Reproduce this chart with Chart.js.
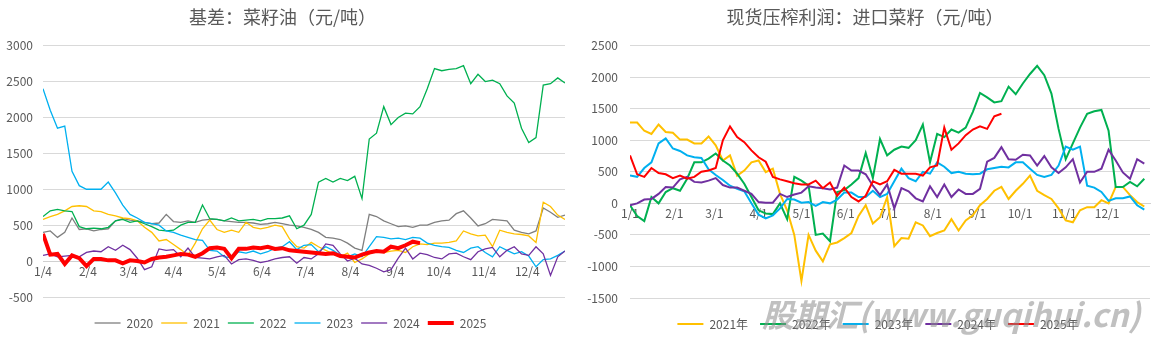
<!DOCTYPE html>
<html>
<head>
<meta charset="utf-8">
<script src="https://cdn.jsdelivr.net/npm/chart.js@4.4.1/dist/chart.umd.min.js"></script>
<style>
  html, body { margin: 0; padding: 0; background: #fff; overflow: hidden; }
  #wrap { position: relative; width: 1163px; height: 339px; overflow: hidden; }
  #basis { position: absolute; left: 0; top: 0; }
  #crush { position: absolute; left: 580px; top: 0; }
  .mark {
    position: absolute; left: 762px; top: 290px; line-height: 34px;
    font: italic bold 32px 'Noto Sans CJK SC', sans-serif;
    color: rgba(140, 140, 140, 0.55); white-space: nowrap;
  }
</style>
</head>
<body>
<div id="wrap">
  <canvas id="basis" width="580" height="339"></canvas>
  <canvas id="crush" width="583" height="339"></canvas>
  <div class="mark">股期汇(www.guqihui.cn)</div>
</div>
<script>
// readings taken every 5 days from the start of the year
const STEP = 5;

// left: 基差 菜籽油, day 0 = 1/4
const basisNames = ['2020', '2021', '2022', '2023', '2024', '2025'];
const basis2020 = [
  400, 420, 330, 400, 600, 440, 450, 420, 440, 450,
  560, 590, 570, 560, 540, 520, 530, 650, 550, 540,
  560, 540, 570, 580, 580, 560, 550, 540, 540, 530,
  510, 520, 540, 520, 500, 490, 470, 440, 400, 330,
  320, 300, 250, 180, 150, 650, 620, 560, 520, 480,
  490, 470, 500, 500, 540, 560, 570, 660, 700, 600,
  490, 520, 580, 570, 560, 430, 400, 380, 420, 740,
  680, 610, 640
];
const basis2021 = [
  580, 620, 650, 700, 760, 770, 760, 700, 690, 650,
  630, 600, 590, 560, 470, 400, 280, 300, 230, 160,
  80, 250, 450, 570, 440, 400, 430, 400, 540, 470,
  450, 470, 500, 480, 310, 200, 180, 260, 200, 150,
  100, 60, 110, -20, 30, 100, 150, 120, 140, 150,
  120, 200, 240, 230, 250, 250, 260, 280, 420, 380,
  350, 360, 200, 430, 400, 380, 370, 350, 260, 820,
  760, 640, 580
];
const basis2022 = [
  620, 700, 720, 700, 690, 480, 450, 460, 450, 470,
  560, 580, 540, 560, 520, 480, 430, 420, 430, 500,
  540, 540, 780, 590, 580, 560, 600, 560, 570, 580,
  560, 590, 590, 600, 630, 450, 500, 650, 1100, 1150,
  1100, 1150, 1120, 1180, 870, 1700, 1780, 2150, 1900, 2000,
  2060, 2050, 2150, 2400, 2680, 2650, 2670, 2680, 2720, 2470,
  2600, 2500, 2520, 2470, 2300, 2200, 1850, 1650, 1720, 2450,
  2470, 2550, 2480
];
const basis2023 = [
  2400, 2100, 1850, 1880, 1250, 1050, 1000, 1000, 1000, 1100,
  950, 780, 650, 600, 540, 520, 500, 420, 400, 360,
  330, 300, 290, 150, 140, 60, 50, 130, 110, 140,
  100, 130, 180, 200, 270, 160, 220, 230, 130, 200,
  150, 80, 60, 100, 60, 200, 340, 330, 310, 320,
  300, 330, 320, 250, 220, 200, 190, 150, 120, 180,
  200, 120, 60, 200, 150, 100, 130, 70, -80, 20,
  30, 80, 140
];
const basis2024 = [
  80, 100, 60, 70, 80, 60, 120, 140, 130, 200,
  150, 220, 160, 40, -120, -80, 170, 150, 160, 60,
  180, 50, 40, 30, 60, 80, -40, 20, 30, 10,
  -20, 0, 30, 50, 60, -30, 50, 30, 100, 240,
  220, 100, 0, 40, -40, -60, -100, -150, -120, 40,
  180, 30, 110, 90, 50, 30, 100, 110, 60, 20,
  130, 170, 190, 60, 150, 200, 100, 80, 200, 100,
  -200, 60, 140
];
const basis2025 = [
  380, 90, 100, -40, 80, 40, -70, 30, 30, 10,
  10, -30, 10, 0, -20, 30, 50, 60, 80, 100,
  90, 60, 110, 180, 190, 170, 40, 170, 170, 190,
  180, 200, 170, 180, 150, 140, 130, 120, 110, 100,
  110, 70, 60, 50, 90, 120, 140, 130, 200, 180,
  220, 270, 250
];
const basisTickDays = [0, 31, 59, 90, 120, 151, 181, 212, 243, 273, 304, 334];
const basisTickLabels = ['1/4', '2/4', '3/4', '4/4', '5/4', '6/4', '7/4', '8/4', '9/4', '10/4', '11/4', '12/4'];

// right: 现货压榨利润 进口菜籽, day 0 = 1/1
const crushNames = ['2021年', '2022年', '2023年', '2024年', '2025年'];
const crush2021 = [
  1280, 1280, 1150, 1100, 1250, 1130, 1120, 1010, 1010, 950,
  950, 1060, 920, 680, 760, 440, 520, 650, 680, 495,
  550, 150, -110, -500, -1230, -500, -750, -920, -650, -620,
  -550, -470, -200, -30, -320, -220, 100, -680, -550, -560,
  -300, -350, -520, -470, -430, -250, -430, -270, -190, -30,
  70, 200, 260, 70, 200, 310, 440, 200, 130, 70,
  -80, -270, -300, -110, -60, -60, 50, 0, 260, 260,
  130, 20, -50
];
const crush2022 = [
  -30, -200, -280, 100, 0, 180, 240, 200, 390, 650,
  650, 710, 790, 680, 600, 470, 310, 100, -110, -160,
  -170, 0, -250, 420, 360, 280, -500, -480, -600, 180,
  210, 300, 400, 800, 400, 1020, 760, 850, 900, 880,
  1000, 1250, 650, 1100, 1050, 1170, 1120, 1200, 1450, 1750,
  1680, 1600, 1620, 1850, 1730, 1900, 2050, 2180, 2030, 1740,
  1180, 700, 950, 1200, 1420, 1460, 1480, 1150, 260, 260,
  340, 270, 390
];
const crush2023 = [
  440, 420, 560, 650, 950, 1030, 870, 830, 760, 730,
  720, 540, 450, 370, 280, 230, 190, 0, -180, -240,
  -190, -80, 70, 60, 10, 20, -40, 20, 0, 60,
  170, 170, 100, 100, 200, 100, 150, 350, 550, 400,
  350, 500, 470, 650, 580, 480, 500, 470, 460, 470,
  540, 560, 580, 570, 650, 650, 550, 450, 420, 450,
  600, 900, 850, 900, 280, 250, 180, 40, 80, 80,
  110, -30, -100
];
const crush2024 = [
  -30, 0, 60, 70, 150, 260, 250, 380, 420, 340,
  330, 360, 400, 290, 250, 250, 200, 150, 20, 10,
  10, 150, 100, 140, 170, 270, 250, 240, 220, 250,
  600, 520, 520, 460, 280, 130, 300, -80, 240, 190,
  80, 30, 270, 100, 300, 100, 220, 150, 150, 230,
  660, 720, 890, 700, 690, 770, 760, 600, 750, 570,
  480, 570, 700, 330, 500, 500, 550, 850, 680, 490,
  390, 700, 630
];
const crush2025 = [
  760, 460, 420, 560, 480, 460, 400, 440, 390, 420,
  500, 520, 560, 1000, 1220, 1050, 970, 840, 730, 660,
  420, 380, 350, 320, 300, 300, 360, 240, 330, 120,
  250, 100, 30, 120, 350, 300, 350, 530, 470, 470,
  470, 440, 570, 600, 1200, 850, 950, 1080, 1170, 1220,
  1180, 1380, 1420
];
const crushTickDays = [0, 31, 59, 90, 120, 151, 181, 212, 243, 273, 304, 334];
const crushTickLabels = ['1/1', '2/1', '3/1', '4/1', '5/1', '6/1', '7/1', '8/1', '9/1', '10/1', '11/1', '12/1'];

const TEXT = '#595959';
const GRID = '#d9d9d9';
const FONT = "'Noto Sans CJK SC', sans-serif";
const COLORS = ['#7f7f7f', '#ffc000', '#00b050', '#00b0f0', '#7030a0', '#ff0000'];

function drawChart(id, o) {
  const n = o.series.length;
  const font = { family: FONT, size: 12 };
  return new Chart(document.getElementById(id), {
    type: 'line',
    data: {
      datasets: o.series.map((vals, i) => ({
        label: o.names[i],
        data: vals.map((v, k) => ({ x: k * STEP, y: v })),
        borderColor: o.colors[i],
        backgroundColor: o.colors[i],
        borderWidth: o.widths[i],
        pointRadius: 0,
        tension: 0,
        order: n - i, // later years drawn on top
      })),
    },
    // nudge the legend sideways, the original is not centred on the canvas
    plugins: [{
      id: 'legendShift',
      afterLayout(chart) {
        chart.legend.left += o.legendShift;
        chart.legend.right += o.legendShift;
      },
    }],
    options: {
      responsive: false,
      animation: false,
      layout: { padding: { left: 0, right: o.rightPad, top: 0, bottom: 0 } },
      plugins: {
        title: {
          display: true,
          text: o.title,
          color: TEXT,
          font: { family: FONT, size: 18, weight: 'normal' },
          padding: { top: 6, bottom: 18 },
        },
        legend: {
          position: 'bottom',
          maxHeight: o.legendHeight,
          labels: {
            usePointStyle: true,
            pointStyle: 'line',
            pointStyleWidth: 26,
            padding: o.legendPad,
            color: TEXT,
            font: font,
            sort: (a, b) => a.datasetIndex - b.datasetIndex,
          },
        },
        tooltip: { enabled: false },
      },
      scales: {
        x: {
          type: 'linear',
          min: 0,
          max: o.xMax,
          position: { y: 0 },
          grid: { display: false, drawTicks: false },
          border: { color: '#d0d0d0' },
          afterBuildTicks: (s) => { s.ticks = o.tickDays.map((v) => ({ value: v })); },
          ticks: {
            autoSkip: false,
            maxRotation: 0,
            padding: 3,
            color: TEXT,
            font: font,
            callback: (v, i) => o.tickLabels[i],
          },
        },
        y: {
          min: o.yMin,
          max: o.yMax,
          ticks: { stepSize: 500, padding: o.yPad, color: TEXT, font: font, callback: (v) => String(v) },
          grid: { color: GRID, drawTicks: false },
          border: { display: false },
          afterFit: (s) => { s.width = o.yWidth; },
        },
        // empty axis, only keeps room between plot and legend
        gap: {
          type: 'linear',
          position: 'bottom',
          grid: { display: false },
          border: { display: false },
          ticks: { display: false },
          afterFit: (s) => { s.height = o.gap; },
        },
      },
    },
  });
}

drawChart('basis', {
  title: '基差：菜籽油（元/吨）',
  names: basisNames,
  series: [basis2020, basis2021, basis2022, basis2023, basis2024, basis2025],
  colors: COLORS,
  widths: [1.3, 1.3, 1.3, 1.3, 1.3, 4],
  yMin: -500, yMax: 3000, xMax: 360,
  tickDays: basisTickDays, tickLabels: basisTickLabels,
  yWidth: 43, yPad: 10, rightPad: 15,
  gap: 12, legendPad: 8, legendHeight: 30, legendShift: 8,
});

drawChart('crush', {
  title: '现货压榨利润：进口菜籽（元/吨）',
  names: crushNames,
  series: [crush2021, crush2022, crush2023, crush2024, crush2025],
  colors: COLORS.slice(1),
  widths: [2, 2, 2, 2, 2],
  yMin: -1500, yMax: 2500, xMax: 364,
  tickDays: crushTickDays, tickLabels: crushTickLabels,
  yWidth: 50, yPad: 12, rightPad: 13,
  gap: 8, legendPad: 12, legendHeight: 33, legendShift: 13,
});
</script>
</body>
</html>
